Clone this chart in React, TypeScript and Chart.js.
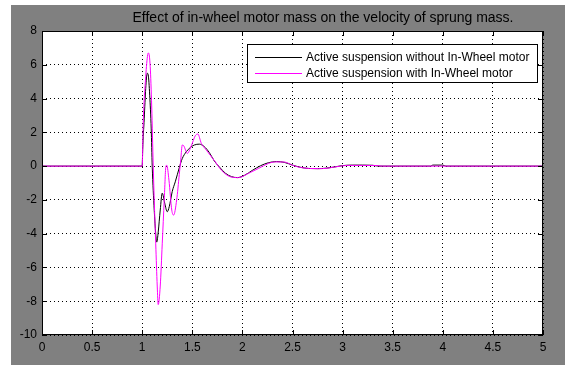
import React, { useEffect, useRef } from "react";
import { Chart, registerables } from "chart.js";

Chart.register(...registerables);

const chartTitle = "Effect of in-wheel motor mass on the velocity of sprung mass.";
const seriesLabels = [
  "Active suspension without In-Wheel motor",
  "Active suspension with In-Wheel motor",
];
const seriesColors = ["#000000", "#ff00ff"];

const xTicks = [0, 0.5, 1, 1.5, 2, 2.5, 3, 3.5, 4, 4.5, 5];
const yTicks = [-10, -8, -6, -4, -2, 0, 2, 4, 6, 8];

const timeWithout = [
  0, 1.0, 1.005, 1.02, 1.035, 1.05, 1.06, 1.075, 1.09, 1.1, 1.12, 1.135, 1.145,
  1.16, 1.18, 1.2, 1.225, 1.25, 1.27, 1.3, 1.33, 1.37, 1.4, 1.44, 1.48, 1.52,
  1.57, 1.62, 1.67, 1.72, 1.77, 1.83, 1.89, 1.95, 2.02, 2.1, 2.18, 2.26, 2.34,
  2.42, 2.5, 2.58, 2.66, 2.75, 2.84, 2.92, 3.0, 3.1, 3.2, 3.3, 3.36, 3.88, 3.9,
  4.0, 4.03, 5,
];
const velocityWithout = [
  0, 0, 1.0, 2.8, 4.6, 5.5, 5.4, 4.2, 2.2, 0, -2.6, -4.0, -4.5, -3.9, -2.6,
  -1.6, -2.2, -2.7, -2.4, -1.5, -0.93, -0.1, 0.45, 0.85, 1.1, 1.25, 1.3, 1.15,
  0.8, 0.3, -0.05, -0.42, -0.62, -0.68, -0.55, -0.25, 0.02, 0.2, 0.27, 0.22,
  0.06, -0.07, -0.14, -0.15, -0.12, -0.05, 0.03, 0.06, 0.06, 0.05, 0, 0, 0.06,
  0.06, 0, 0,
];

const timeWith = [
  0, 1.0, 1.01, 1.035, 1.055, 1.063, 1.08, 1.095, 1.11, 1.12, 1.135, 1.15, 1.16,
  1.18, 1.2, 1.22, 1.237, 1.245, 1.267, 1.295, 1.314, 1.344, 1.37, 1.385, 1.4,
  1.415, 1.45, 1.49, 1.53, 1.555, 1.59, 1.64, 1.73, 1.79, 1.88, 1.96, 2.06,
  2.16, 2.26, 2.33, 2.42, 2.5, 2.58, 2.67, 2.76, 2.84, 2.92, 2.98, 3.05, 3.2,
  3.35, 3.4, 5,
];
const velocityWith = [
  0, 0, 2.5, 5.3, 6.6, 6.7, 5.9, 3.5, 0, -2.0, -4.6, -7.1, -8.2, -7.1, -4.6,
  -2.0, 0, 0.05, -0.83, -2.6, -2.9, -2.0, -0.5, 0.4, 1.25, 1.2, 0.75, 1.2, 1.8,
  1.9, 1.35, 0.95, 0.25, -0.24, -0.63, -0.68, -0.43, -0.14, 0.16, 0.25, 0.24,
  0.05, -0.08, -0.14, -0.15, -0.13, -0.05, 0, 0.04, 0.04, 0.03, 0, 0,
];

const FIG_GREY = "#808080";
const FONT = "'Liberation Sans', Arial, sans-serif";

const toPoints = (xs: number[], ys: number[]) => xs.map((x, i) => ({ x, y: ys[i] }));

const matlabFrame = {
  id: "matlabFrame",
  beforeDraw(chart: any) {
    const { ctx, width, height, chartArea: a } = chart;
    ctx.save();
    ctx.fillStyle = "#ffffff";
    ctx.fillRect(0, 0, width, height);
    ctx.fillStyle = FIG_GREY;
    ctx.fillRect(11, 5, width - 11, height - 5);
    ctx.fillStyle = "#ffffff";
    ctx.fillRect(a.left, a.top, a.right - a.left, a.bottom - a.top);
    ctx.restore();
  },
  afterDraw(chart: any) {
    const { ctx, chartArea: a, scales } = chart;
    ctx.save();
    ctx.strokeStyle = "#000000";
    ctx.lineWidth = 1;
    ctx.setLineDash([]);
    ctx.strokeRect(a.left + 0.5, a.top + 0.5, a.right - a.left - 1, a.bottom - a.top - 1);
    const tl = 5;
    ctx.beginPath();
    xTicks.forEach((v) => {
      const px = Math.round(scales.x.getPixelForValue(v)) + 0.5;
      ctx.moveTo(px, a.bottom);
      ctx.lineTo(px, a.bottom - tl);
      ctx.moveTo(px, a.top);
      ctx.lineTo(px, a.top + tl);
    });
    yTicks.forEach((v) => {
      const py = Math.round(scales.y.getPixelForValue(v)) + 0.5;
      ctx.moveTo(a.left, py);
      ctx.lineTo(a.left + tl, py);
      ctx.moveTo(a.right, py);
      ctx.lineTo(a.right - tl, py);
    });
    ctx.stroke();
    ctx.fillStyle = "#000000";
    ctx.font = `14px ${FONT}`;
    ctx.textAlign = "center";
    ctx.textBaseline = "middle";
    ctx.fillText(chartTitle, 323, 18);
    const lx = 247, ly = 44, lw = 291, lh = 39;
    ctx.fillStyle = "#ffffff";
    ctx.fillRect(lx, ly, lw, lh);
    ctx.strokeStyle = "#000000";
    ctx.strokeRect(lx + 0.5, ly + 0.5, lw - 1, lh - 1);
    ctx.font = `12px ${FONT}`;
    ctx.textAlign = "left";
    chart.data.datasets.forEach((ds: any, i: number) => {
      const y = 57 + i * 16;
      ctx.strokeStyle = ds.borderColor;
      ctx.beginPath();
      ctx.moveTo(255, y + 0.5);
      ctx.lineTo(302, y + 0.5);
      ctx.stroke();
      ctx.fillStyle = "#000000";
      ctx.fillText(ds.label, 306, y + 0.5);
    });
    ctx.restore();
  },
};

export default function App() {
  const canvasRef = useRef<HTMLCanvasElement | null>(null);

  useEffect(() => {
    const canvas = canvasRef.current;
    if (!canvas) return;
    const chart = new Chart(canvas, {
      type: "line",
      data: {
        datasets: [
          {
            label: seriesLabels[0],
            data: toPoints(timeWithout, velocityWithout),
            borderColor: seriesColors[0],
            borderWidth: 1,
            pointRadius: 0,
            fill: false,
            cubicInterpolationMode: "monotone",
            order: 1,
          },
          {
            label: seriesLabels[1],
            data: toPoints(timeWith, velocityWith),
            borderColor: seriesColors[1],
            borderWidth: 1,
            pointRadius: 0,
            fill: false,
            cubicInterpolationMode: "monotone",
            order: 0,
          },
        ],
      },
      options: {
        responsive: false,
        animation: false,
        devicePixelRatio: 1,
        layout: { padding: { left: 0, top: 31, right: 22, bottom: 0 } },
        plugins: {
          legend: { display: false },
          title: { display: false },
          tooltip: { enabled: false },
        },
        scales: {
          x: {
            type: "linear",
            min: 0,
            max: 5,
            afterBuildTicks: (scale: any) => {
              scale.ticks = xTicks.map((v) => ({ value: v }));
            },
            afterFit: (scale: any) => {
              scale.height = 30;
            },
            ticks: {
              autoSkip: false,
              maxRotation: 0,
              padding: 5,
              color: "#000000",
              font: { family: FONT, size: 12 },
              callback: (v: any) => String(v),
            },
            grid: {
              color: "#000000",
              lineWidth: 1,
              drawTicks: false,
              tickLength: 0,
            },
            border: { display: false, dash: [1, 3] },
          },
          y: {
            type: "linear",
            min: -10,
            max: 8,
            afterBuildTicks: (scale: any) => {
              scale.ticks = yTicks.map((v) => ({ value: v }));
            },
            afterFit: (scale: any) => {
              scale.width = 42;
            },
            ticks: {
              autoSkip: false,
              padding: 5,
              color: "#000000",
              font: { family: FONT, size: 12 },
              callback: (v: any) => String(v),
            },
            grid: {
              color: "#000000",
              lineWidth: 1,
              drawTicks: false,
              tickLength: 0,
            },
            border: { display: false, dash: [1, 3] },
          },
        },
      } as any,
      plugins: [matlabFrame],
    });
    return () => chart.destroy();
  }, []);

  return (
    <div style={{ position: "fixed", left: 0, top: 0, width: 565, height: 365 }}>
      <canvas ref={canvasRef} width={565} height={365} style={{ display: "block" }} />
    </div>
  );
}
